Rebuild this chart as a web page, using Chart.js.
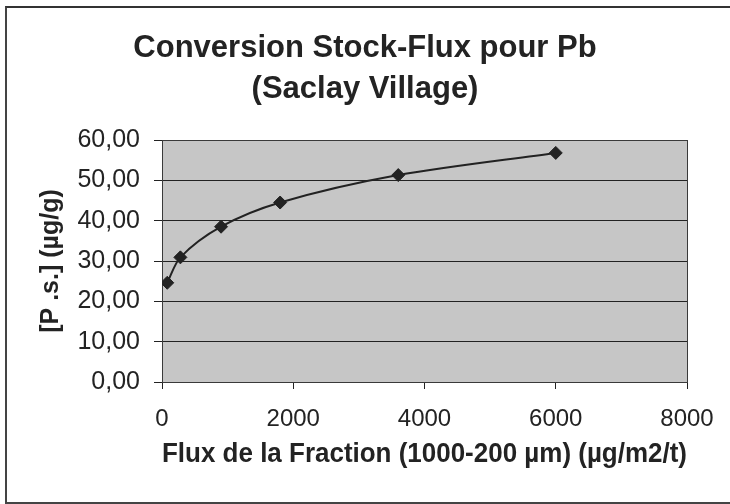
<!DOCTYPE html>
<html lang="fr">
<head>
<meta charset="utf-8">
<title>Conversion Stock-Flux pour Pb</title>
<script src="https://cdn.jsdelivr.net/npm/chart.js@4/dist/chart.umd.min.js"></script>
<style>
  html, body { margin: 0; padding: 0; background: #fff; }
  #wrap { position: relative; width: 730px; height: 504px; overflow: hidden; }
  #frame {
    position: absolute; left: 5px; top: 6px; width: 740px; height: 494px;
    border-top: 2px solid #333; border-left: 2px solid #444; border-bottom: 2px solid #444;
  }
  canvas { position: absolute; left: 0; top: 0; }
</style>
</head>
<body>
<div id="wrap">
  <div id="frame"></div>
  <canvas id="stockFlux" width="730" height="504"></canvas>
</div>
<script>
// Saclay Village, Pb: flux of the 1000-200 µm fraction vs. stock concentration
const fluxValues = [80, 280, 900, 1800, 3600, 6000];
const leadValues = [24.6, 30.9, 38.5, 44.5, 51.3, 56.8];
const xTicks = [0, 2000, 4000, 6000, 8000];
const yTicks = [0, 10, 20, 30, 40, 50, 60];

const titleLines = ['Conversion Stock-Flux pour Pb', '(Saclay Village)'];
const xTitle = 'Flux de la Fraction (1000-200 µm) (µg/m2/t)';
const yTitle = '[P .s.] (µg/g)';

const FONT = "'Liberation Sans', Arial, sans-serif";
const INK = '#232323';

Chart.defaults.font.family = FONT;
Chart.defaults.color = INK;

// grey plot background plus a frame round the plot area
const plotArea = {
  id: 'plotArea',
  beforeDraw(chart) {
    const { ctx, chartArea: a } = chart;
    ctx.save();
    ctx.fillStyle = '#c6c6c6';
    ctx.fillRect(a.left, a.top, a.right - a.left, a.bottom - a.top);
    ctx.restore();
  },
  beforeDatasetsDraw(chart) {
    const { ctx, chartArea: a } = chart;
    ctx.save();
    ctx.strokeStyle = '#3a3a3a';
    ctx.lineWidth = 1;
    ctx.strokeRect(a.left + 0.5, a.top + 0.5, a.right - a.left, a.bottom - a.top);
    ctx.restore();
  }
};

const points = fluxValues.map((x, i) => ({ x, y: leadValues[i] }));

new Chart(document.getElementById('stockFlux'), {
  type: 'scatter',
  data: {
    datasets: [{
      data: points,
      showLine: true,
      tension: 0.3,
      borderColor: '#222',
      borderWidth: 2,
      pointStyle: 'rectRot',
      pointRadius: 6.5,
      pointBackgroundColor: '#222',
      pointBorderColor: '#222',
      pointBorderWidth: 1
    }]
  },
  options: {
    responsive: false,
    animation: false,
    layout: { padding: 0 },
    plugins: {
      legend: { display: false },
      tooltip: { enabled: false },
      title: {
        display: true,
        text: titleLines,
        color: INK,
        font: { size: 31, weight: 'bold', lineHeight: 41 / 31 },
        padding: { top: 28, bottom: 30 }
      }
    },
    scales: {
      x: {
        type: 'linear',
        min: 0,
        max: 8000,
        afterBuildTicks(scale) { scale.ticks = xTicks.map(v => ({ value: v })); },
        afterFit(scale) { scale.height = 122; },
        border: { color: '#222', width: 1 },
        grid: { drawOnChartArea: false, drawTicks: true, tickLength: 7, color: '#222' },
        ticks: {
          padding: 16,
          font: { size: 24 },
          color: INK,
          callback: v => String(v)
        },
        title: {
          display: true,
          text: xTitle,
          color: INK,
          font: { size: 27, weight: 'bold' },
          padding: { top: 0, bottom: 33 }
        }
      },
      y: {
        type: 'linear',
        min: 0,
        max: 60,
        afterBuildTicks(scale) { scale.ticks = yTicks.map(v => ({ value: v })); },
        afterFit(scale) { scale.width = 162; },
        border: { color: '#222', width: 1 },
        grid: { color: '#222', lineWidth: 1, drawTicks: true, tickLength: 8 },
        ticks: {
          padding: 14,
          font: { size: 25 },
          color: INK,
          callback: v => v.toFixed(2).replace('.', ',')
        },
        title: {
          display: true,
          text: yTitle,
          color: INK,
          font: { size: 25, weight: 'bold' },
          padding: { top: 36, bottom: 0 }
        }
      },
      // empty strip on the right so the plot ends short of the frame
      yRight: {
        position: 'right',
        min: 0,
        max: 60,
        afterFit(scale) { scale.width = 43; },
        border: { display: false },
        grid: { display: false },
        ticks: { display: false }
      }
    }
  },
  plugins: [plotArea]
});
</script>
</body>
</html>
